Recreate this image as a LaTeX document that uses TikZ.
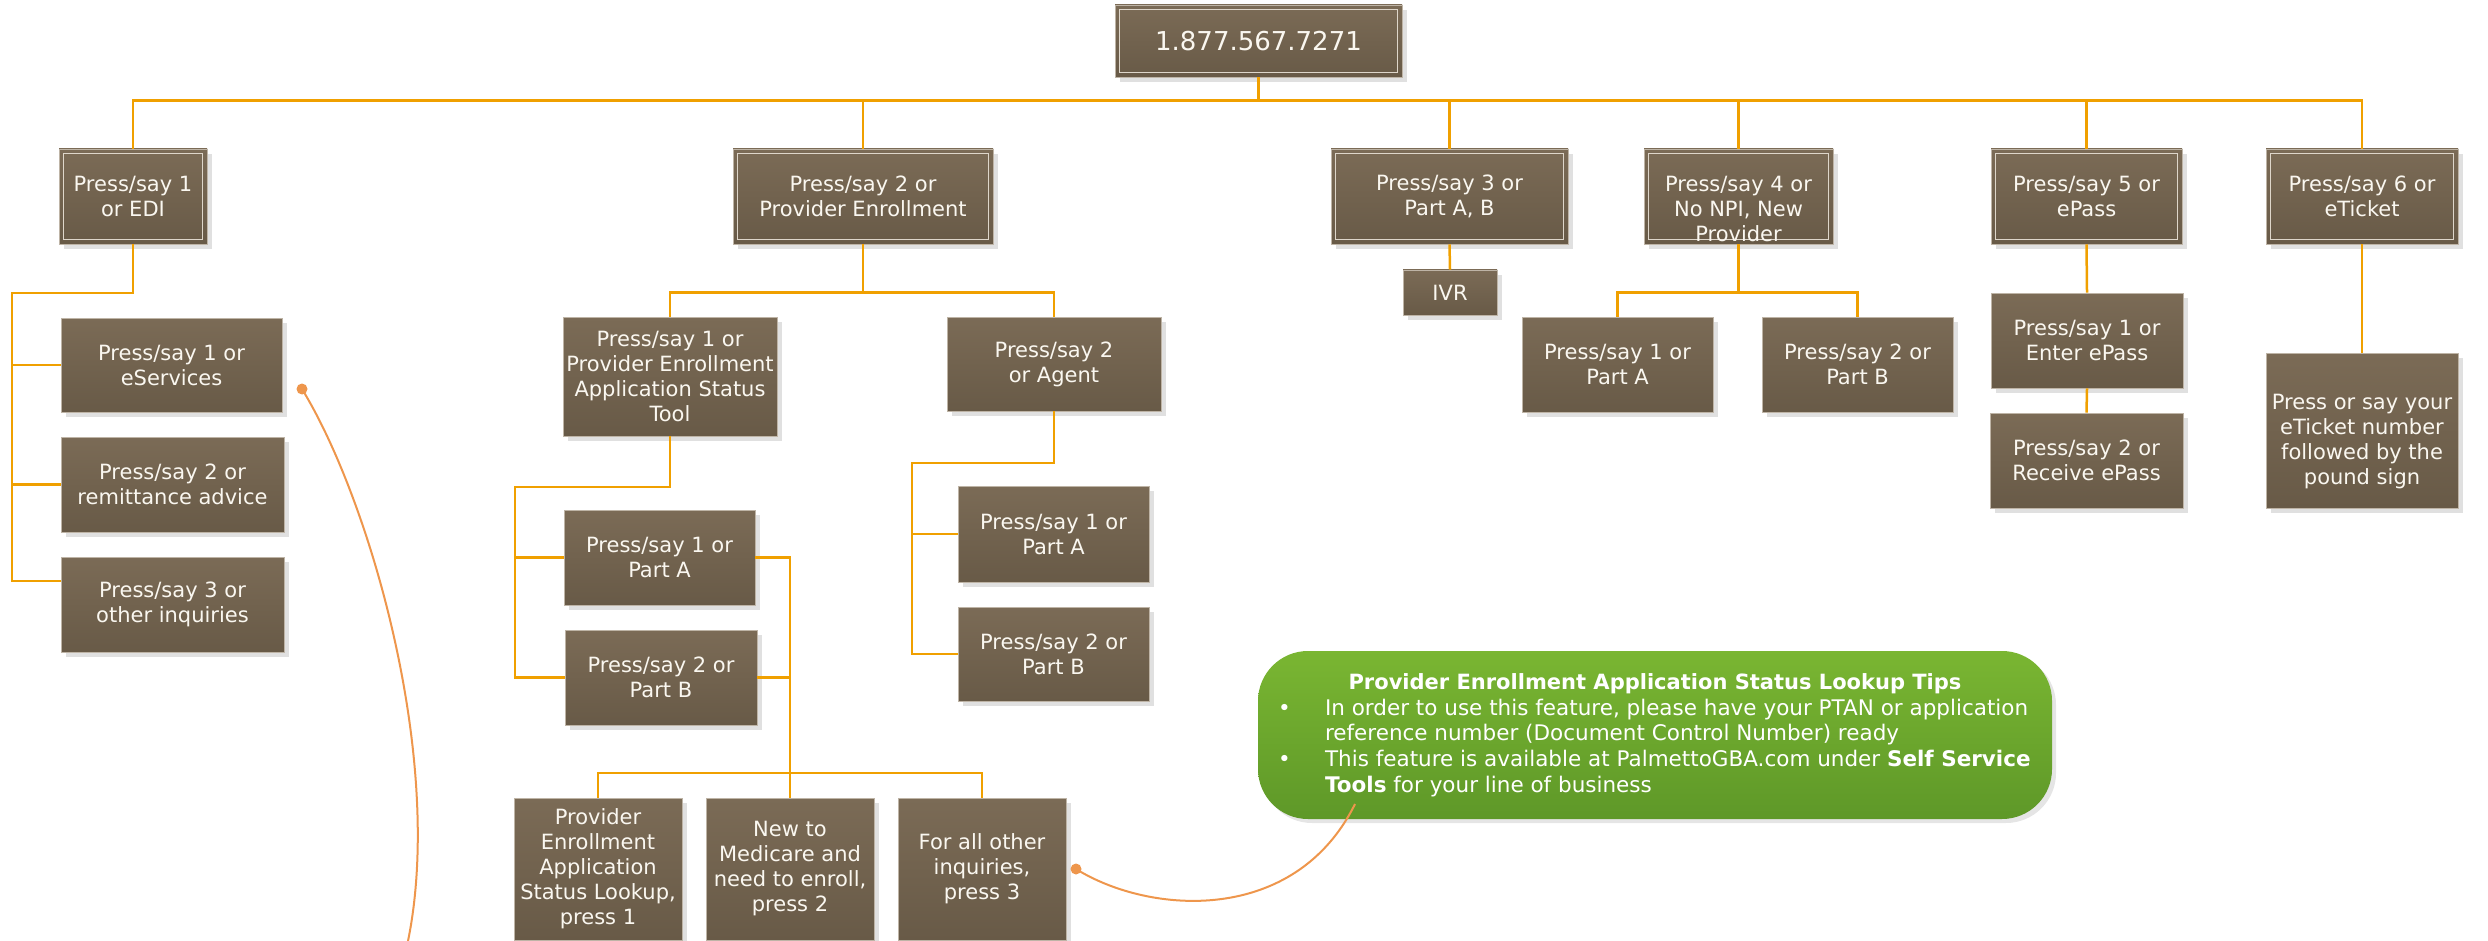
\documentclass[tikz,border=0pt]{standalone}
\usepackage{fontspec}
\setmainfont{DejaVu Sans}
\usetikzlibrary{shadows}
\definecolor{boxtop}{RGB}{123,107,86}
\definecolor{boxbot}{RGB}{104,90,71}
\definecolor{boxedge}{RGB}{190,180,166}
\definecolor{inneredge}{RGB}{222,214,202}
\definecolor{linkorange}{RGB}{240,160,0}
\definecolor{noteorange}{RGB}{238,150,76}
\definecolor{greentop}{RGB}{122,182,50}
\definecolor{greenbot}{RGB}{94,152,40}
\definecolor{boxtext}{RGB}{250,247,240}
\begin{document}
\begin{tikzpicture}[x=1pt,y=-1pt,
  box/.style={draw=boxedge, line width=0.8pt, top color=boxtop, bottom color=boxbot,
    text=boxtext, align=center, inner sep=0pt, font=\fontsize{21}{25}\selectfont,
    drop shadow={shadow xshift=5pt, shadow yshift=-5pt, fill=black!12, opacity=1}},
  mainbox/.style={box, path picture={\draw[inneredge, line width=1pt]
    ([shift={(4.5pt,4.5pt)}]path picture bounding box.south west) rectangle
    ([shift={(-4.5pt,-4.5pt)}]path picture bounding box.north east);}},
  conn/.style={draw=linkorange, line width=2.5pt},
  noteline/.style={draw=noteorange, line width=2pt},
  notedot/.style={fill=noteorange, circle, inner sep=0pt, minimum size=11pt},
  tips/.style={rounded corners=50pt, top color=greentop, bottom color=greenbot,
    minimum width=794pt, minimum height=168pt, inner sep=0pt, text=white,
    drop shadow={shadow xshift=4pt, shadow yshift=-4pt, fill=black!10, opacity=1}},
]
\useasboundingbox (0,0) rectangle (2488,941);

% top
\node[mainbox, minimum width=287pt, minimum height=72pt, font=\fontsize{26}{30}\selectfont] (top) at (1258.5,41) {1.877.567.7271};

% level 1
\node[mainbox, minimum width=148pt, minimum height=95pt] (B1) at (133,196.5) {Press/say 1\\or EDI};
\node[mainbox, minimum width=260pt, minimum height=95pt] (B2) at (863,196.5) {Press/say 2 or\\Provider Enrollment};
\node[mainbox, minimum width=237pt, minimum height=95pt] (B3) at (1449.5,196.5) {Press/say 3 or\\Part A, B};
\node[mainbox, minimum width=189pt, minimum height=95pt] (B4) at (1738.5,196.5) {\rule{0pt}{41pt}Press/say 4 or\\No NPI, New\\Provider};
\node[mainbox, minimum width=191pt, minimum height=95pt] (B5) at (2086.5,196.5) {Press/say 5 or\\ePass};
\node[mainbox, minimum width=192pt, minimum height=95pt] (B6) at (2362,196.5) {Press/say 6 or\\eTicket};

% B1 children
\node[box, minimum width=221pt, minimum height=94pt] (c11) at (171.5,365) {Press/say 1 or\\eServices};
\node[box, minimum width=223pt, minimum height=95pt] (c12) at (172.5,484.5) {Press/say 2 or\\remittance advice};
\node[box, minimum width=223pt, minimum height=95pt] (c13) at (172.5,604.5) {Press/say 3 or\\other inquiries};

% B2 children
\node[box, minimum width=214pt, minimum height=119pt] (c21) at (670,376.5) {Press/say 1 or\\Provider Enrollment\\Application Status\\Tool};
\node[box, minimum width=214pt, minimum height=94pt] (c22) at (1054,364) {Press/say 2\\or Agent};
\node[box, minimum width=191pt, minimum height=95pt] (c211) at (659.5,557.5) {Press/say 1 or\\Part A};
\node[box, minimum width=192pt, minimum height=95pt] (c212) at (661,677.5) {Press/say 2 or\\Part B};
\node[box, minimum width=191pt, minimum height=96pt] (c221) at (1053.5,534) {Press/say 1 or\\Part A};
\node[box, minimum width=191pt, minimum height=94pt] (c222) at (1053.5,654) {Press/say 2 or\\Part B};
\node[box, minimum width=168pt, minimum height=142pt] (d1) at (598,869) {Provider\\Enrollment\\Application\\Status Lookup,\\press 1};
\node[box, minimum width=168pt, minimum height=142pt] (d2) at (790,869) {New to\\Medicare and\\need to enroll,\\press 2};
\node[box, minimum width=168pt, minimum height=142pt] (d3) at (982,869) {For all other\\inquiries,\\press 3};

% B3..B6 children
\node[box, minimum width=94pt, minimum height=45pt] (IVR) at (1450,292.5) {IVR};
\node[box, minimum width=191pt, minimum height=95pt] (c41) at (1617.5,364.5) {Press/say 1 or\\Part A};
\node[box, minimum width=191pt, minimum height=95pt] (c42) at (1857.5,364.5) {Press/say 2 or\\Part B};
\node[box, minimum width=192pt, minimum height=95pt] (c51) at (2087,340.5) {Press/say 1 or\\Enter ePass};
\node[box, minimum width=193pt, minimum height=95pt] (c52) at (2086.5,460.5) {Press/say 2 or\\Receive ePass};
\node[box, minimum width=192pt, minimum height=155pt] (c6) at (2362,430.5) {\rule{0pt}{38pt}Press or say your\\eTicket number\\followed by the\\pound sign};

% connectors level 0 -> 1
\foreach \n in {B1,B2,B3,B4,B5,B6}
  \draw[conn] (top.south) -- ++(0,23) -| (\n.north);

% B1 subtree
\coordinate (l1) at (12,293);
\draw[conn] (B1.south) |- (l1) |- (c11.west);
\draw[conn] (l1) |- (c12.west);
\draw[conn] (l1) |- ([yshift=23.5pt]c13.west);

% B2 subtree
\draw[conn] (B2.south) -- ++(0,48) -| (c21.north);
\draw[conn] (B2.south) -- ++(0,48) -| (c22.north);
\coordinate (l2) at (515,487);
\draw[conn] (c21.south) |- (l2) |- (c211.west);
\draw[conn] (l2) |- (c212.west);
\draw[conn] (c211.east) -| (d2.north);
\draw[conn] (c212.east) -- (c212.east -| d2.north);
\coordinate (bb) at (790,773);
\draw[conn] (bb) -| (d1.north);
\draw[conn] (bb) -| (d3.north);
\coordinate (l3) at (912,463);
\draw[conn] (c22.south) |- (l3) |- (c221.west);
\draw[conn] (l3) |- (c222.west);

% B3..B6 subtrees
\draw[conn] (B3.south) -- (IVR.north);
\draw[conn] (B4.south) -- ++(0,48) -| (c41.north);
\draw[conn] (B4.south) -- ++(0,48) -| (c42.north);
\draw[conn] (B5.south) -- (c51.north);
\draw[conn] (c51.south) -- (c52.north);
\draw[conn] (B6.south) -- (c6.north);

% tips callout
\node[tips] (tips) at (1655,735) {\parbox{756pt}{\fontsize{21.5}{25.7}\selectfont
\makebox[756pt][c]{\fontsize{21}{25.7}\selectfont\bfseries Provider Enrollment Application Status Lookup Tips}\\
\makebox[48pt][l]{\hspace{1pt}•}In order to use this feature, please have your PTAN or application\\
\hspace*{48pt}reference number (Document Control Number) ready\\
\makebox[48pt][l]{\hspace{1pt}•}This feature is available at PalmettoGBA.com under \textbf{Self Service}\\
\hspace*{48pt}\textbf{Tools} for your line of business}};

% annotation connectors
\node[notedot] (dotA) at (302,389) {};
\coordinate (offA) at (408,941);
\draw[noteline] (dotA.center) .. controls (370,500) and (445,760) .. (offA);
\node[notedot] (dotB) at (1076,869) {};
\coordinate (tipend) at (1355,804);
\draw[noteline] (dotB.center) .. controls (1150,915) and (1295,925) .. (tipend);
\end{tikzpicture}
\end{document}
